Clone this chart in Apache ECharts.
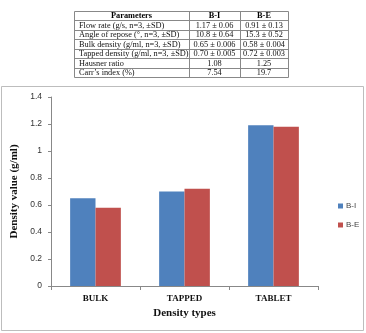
<!DOCTYPE html>
<html><head><meta charset="utf-8">
<script src="https://cdn.jsdelivr.net/npm/echarts@6/dist/echarts.min.js"></script>
<style>html,body{margin:0;padding:0;background:#fff;}#c{width:366px;height:333px;}</style>
</head><body><div id="c"></div>
<script>
var categories = ['BULK', 'TAPPED', 'TABLET'];
var seriesNames = ['B-I', 'B-E'];
var valuesBI = [0.65, 0.70, 1.19];
var valuesBE = [0.58, 0.72, 1.18];
var yTicks = [0, 0.2, 0.4, 0.6, 0.8, 1, 1.2, 1.4];

var tableHeader = ['Parameters', 'B-I', 'B-E'];
var tableParams = ['Flow rate (g/s, n=3, \u00b1SD)', 'Angle of repose (\u00b0, n=3, \u00b1SD)', 'Bulk density (g/ml, n=3, \u00b1SD)', 'Tapped density (g/ml, n=3, \u00b1SD)', 'Hausner ratio', 'Carr\u2019s index (%)'];
var tableBI = ['1.17 \u00b1 0.06', '10.8 \u00b1 0.64', '0.65 \u00b1 0.006', '0.70 \u00b1 0.005', '1.08', '7.54'];
var tableBE = ['0.91 \u00b1 0.13', '15.3 \u00b1 0.52', '0.58 \u00b1 0.004', '0.72 \u00b1 0.003', '1.25', '19.7'];

var chart = echarts.init(document.getElementById('c'), null, {renderer: 'canvas'});

var tx0 = 74, tx1 = 189, tx2 = 240, tx3 = 288, ty0 = 11, rowH = 9.43;
var g = [];
g.push({type: 'rect', shape: {x: 1.5, y: 86.5, width: 362, height: 244}, style: {fill: 'none', stroke: '#bdbdbd', lineWidth: 1}, z: 0});
var nRows = tableParams.length + 1;
var tbot = ty0 + rowH * nRows;
g.push({type: 'rect', shape: {x: tx0 + 0.5, y: ty0 + 0.5, width: tx3 - tx0, height: tbot - ty0}, style: {fill: 'none', stroke: '#888', lineWidth: 1}});
[tx1, tx2].forEach(function (x) {
  g.push({type: 'line', shape: {x1: x + 0.5, y1: ty0, x2: x + 0.5, y2: tbot}, style: {stroke: '#888', lineWidth: 1}});
});
for (var i = 1; i < nRows; i++) {
  var yy = Math.round(ty0 + rowH * i) + 0.5;
  g.push({type: 'line', shape: {x1: tx0, y1: yy, x2: tx3, y2: yy}, style: {stroke: '#888', lineWidth: 1}});
}
var font = '8.3px "Liberation Serif"';
var bfont = 'bold 8.3px "Liberation Serif"';
function cellY(r) { return ty0 + rowH * r + rowH / 2 + 0.5; }
g.push({type: 'text', style: {text: tableHeader[0], x: (tx0 + tx1) / 2, y: cellY(0), font: bfont, fill: '#000', align: 'center', verticalAlign: 'middle'}});
g.push({type: 'text', style: {text: tableHeader[1], x: (tx1 + tx2) / 2, y: cellY(0), font: bfont, fill: '#000', align: 'center', verticalAlign: 'middle'}});
g.push({type: 'text', style: {text: tableHeader[2], x: (tx2 + tx3) / 2, y: cellY(0), font: bfont, fill: '#000', align: 'center', verticalAlign: 'middle'}});
for (var r = 0; r < tableParams.length; r++) {
  g.push({type: 'text', style: {text: tableParams[r], x: tx0 + 5, y: cellY(r + 1), font: font, fill: '#111', align: 'left', verticalAlign: 'middle'}});
  g.push({type: 'text', style: {text: tableBI[r], x: (tx1 + tx2) / 2, y: cellY(r + 1), font: font, fill: '#111', align: 'center', verticalAlign: 'middle'}});
  g.push({type: 'text', style: {text: tableBE[r], x: (tx2 + tx3) / 2, y: cellY(r + 1), font: font, fill: '#111', align: 'center', verticalAlign: 'middle'}});
}

chart.setOption({
  animation: false,
  backgroundColor: '#fff',
  graphic: g,
  grid: {left: 51, right: 48, top: 97, bottom: 47, containLabel: false},
  legend: {
    orient: 'vertical', left: 333, top: 197, itemWidth: 5, itemHeight: 5, itemGap: 11,
    icon: 'rect', data: seriesNames,
    textStyle: {fontSize: 8, color: '#444', fontFamily: 'Liberation Sans', padding: [0, 0, 0, -2]}
  },
  xAxis: {
    type: 'category', data: categories,
    axisLine: {lineStyle: {color: '#888', width: 1}},
    axisTick: {show: true, alignWithLabel: false, length: 4, lineStyle: {color: '#888'}},
    axisLabel: {fontFamily: 'Liberation Serif', fontWeight: 'bold', fontSize: 9, color: '#111', margin: 8},
    name: 'Density types', nameLocation: 'middle', nameGap: 21,
    nameTextStyle: {fontFamily: 'Liberation Serif', fontWeight: 'bold', fontSize: 11, color: '#111'}
  },
  yAxis: {
    type: 'value', min: yTicks[0], max: yTicks[yTicks.length - 1], interval: 0.2,
    axisLine: {show: true, lineStyle: {color: '#888', width: 1}},
    axisTick: {show: true, length: 3, lineStyle: {color: '#888'}},
    splitLine: {show: false},
    axisLabel: {fontFamily: 'Liberation Sans', fontSize: 8.5, color: '#333', margin: 9,
      formatter: function (v) { return String(Math.round(v * 10) / 10); }},
    name: 'Density value (g/ml)', nameLocation: 'middle', nameGap: 25,
    nameTextStyle: {fontFamily: 'Liberation Serif', fontWeight: 'bold', fontSize: 11, color: '#111'}
  },
  series: [
    {name: seriesNames[0], type: 'bar', data: valuesBI, barGap: '0%', barCategoryGap: '43%', itemStyle: {color: '#4F81BD'}},
    {name: seriesNames[1], type: 'bar', data: valuesBE, itemStyle: {color: '#C0504D'}}
  ]
});
</script></body></html>
